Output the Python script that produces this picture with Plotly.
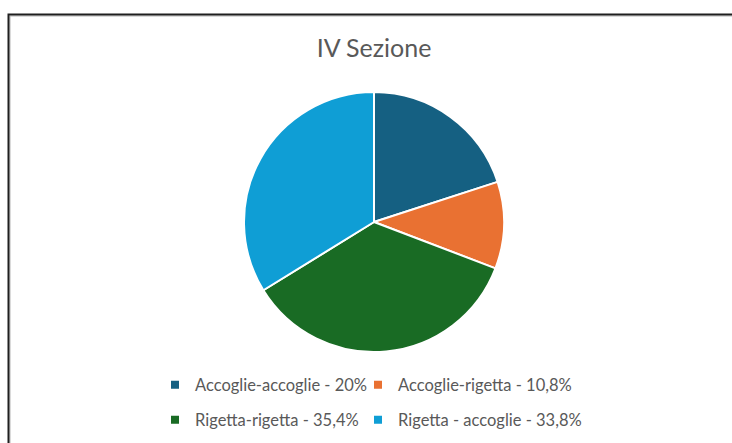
"""Pie chart: IV Sezione."""

import plotly.graph_objects as go

W, H = 732, 443

labels = ["Accoglie-accoglie", "Accoglie-rigetta", "Rigetta-rigetta", "Rigetta-accoglie"]
values = [20.0, 10.8, 35.4, 33.8]
legend_labels = [
  "Accoglie-accoglie - 20%",
  "Accoglie-rigetta - 10,8%",
  "Rigetta-rigetta - 35,4%",
  "Rigetta - accoglie - 33,8%",
]
colors = ["#156082", "#E97132", "#196B24", "#0F9ED5"]

FONT = "Lato"
GREY = "#595959"


def px_x(v):
  return v / W


def px_y(v):
  return 1 - v / H


fig = go.Figure()

fig.add_trace(
  go.Pie(
    labels=labels,
    values=values,
    sort=False,
    direction="clockwise",
    rotation=0,
    textinfo="none",
    hoverinfo="label+percent",
    marker={"colors": colors, "line": {"color": "white", "width": 2}},
    domain={"x": [px_x(244), px_x(504)], "y": [px_y(352), px_y(92)]},
    showlegend=False,
  )
)

# one legend box per entry: 2 columns x 2 rows
legend_ids = ["legend", "legend2", "legend3", "legend4"]
for name, color, lid in zip(legend_labels, colors, legend_ids):
  fig.add_trace(
    go.Scatter(
      x=[None],
      y=[None],
      mode="markers",
      name=name,
      marker={"symbol": "square", "size": 8, "color": color},
      legend=lid,
      hoverinfo="skip",
    )
  )

legend_common = {
  "orientation": "h",
  "xanchor": "left",
  "yanchor": "middle",
  "font": {"family": FONT, "size": 16.5, "color": GREY},
  "bgcolor": "rgba(0,0,0,0)",
  "itemclick": False,
  "itemdoubleclick": False,
}
col_x = [155, 358]
row_y = [385, 420]

fig.update_layout(
  width=W,
  height=H,
  margin={"l": 0, "r": 0, "t": 0, "b": 0},
  paper_bgcolor="white",
  plot_bgcolor="white",
  title={
    "text": "IV Sezione",
    "x": px_x(374),
    "xanchor": "center",
    "y": px_y(48),
    "yanchor": "middle",
    "font": {"family": FONT, "size": 25, "color": GREY},
  },
  xaxis={"visible": False},
  yaxis={"visible": False},
  shapes=[
    {
      "type": "rect",
      "xref": "paper",
      "yref": "paper",
      "x0": px_x(10),
      "x1": px_x(W + 20),
      "y0": px_y(H + 20),
      "y1": px_y(16),
      "line": {"color": "#b5b5b5", "width": 1},
    },
    {
      "type": "rect",
      "xref": "paper",
      "yref": "paper",
      "x0": px_x(8.5),
      "x1": px_x(W + 20),
      "y0": px_y(H + 20),
      "y1": px_y(14.5),
      "line": {"color": "#1f1f1f", "width": 2},
    },
  ],
)

for k, lid in enumerate(legend_ids):
  fig.update_layout(
    {lid: {**legend_common, "x": px_x(col_x[k % 2]), "y": px_y(row_y[k // 2])}}
  )

fig.write_html(
  "out.html",
  config={"displayModeBar": False},
  post_script="document.body.style.margin = '0';",
)
